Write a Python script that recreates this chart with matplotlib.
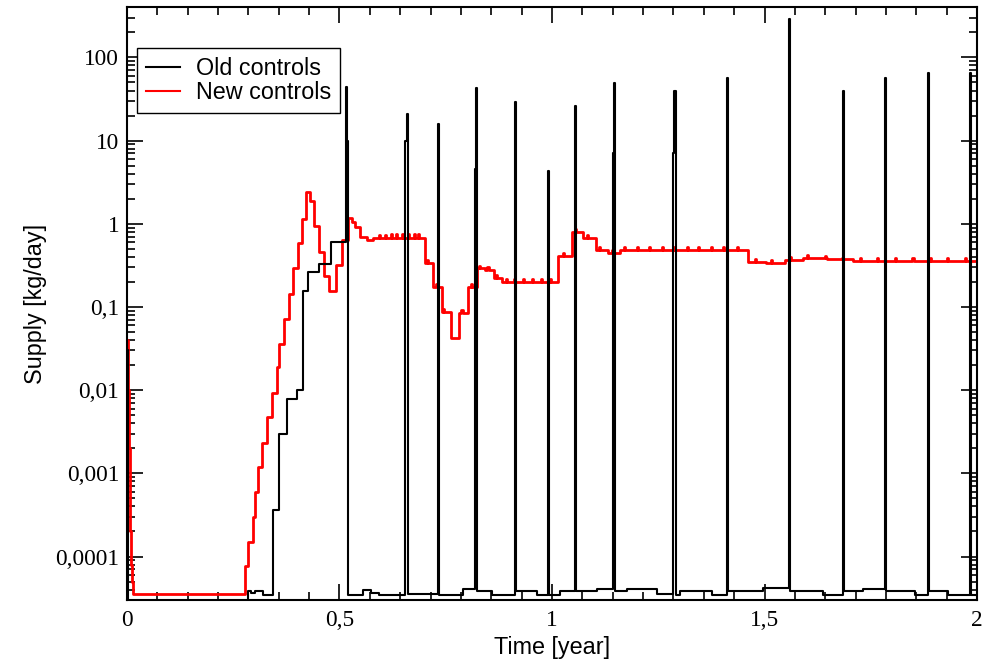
import matplotlib
matplotlib.use('Agg')
import matplotlib.pyplot as plt
import numpy as np
from matplotlib.ticker import FixedLocator, FixedFormatter, LogLocator, NullFormatter, MultipleLocator

# Axis ticks and labels (comma as decimal separator)
x_ticks = [0, 0.5, 1, 1.5, 2]
x_tick_labels = ['0', '0,5', '1', '1,5', '2']
y_ticks = [1e-4, 1e-3, 1e-2, 1e-1, 1, 10, 100]
y_tick_labels = ['0,0001', '0,001', '0,01', '0,1', '1', '10', '100']

series_labels = ['Old controls', 'New controls']

# Old controls: step breakpoints, time [year] and supply [kg/day]
old_t = [0.0, 0.0015, 0.285, 0.292, 0.301, 0.3207, 0.344, 0.358, 0.376, 0.399,
         0.413, 0.4266, 0.4525, 0.479,
         0.5145, 0.5172, 0.52, 0.555, 0.575, 0.594,
         0.655, 0.6577, 0.6604, 0.7325, 0.735, 0.791,
         0.8185, 0.821, 0.8237, 0.859, 0.912, 0.9147, 0.9642,
         0.99, 0.9927, 1.0188, 1.053, 1.0557, 1.105,
         1.1435, 1.146, 1.1487, 1.1757, 1.2463,
         1.2855, 1.288, 1.2907, 1.301, 1.3757,
         1.4125, 1.415, 1.497, 1.5565, 1.559, 1.638,
         1.684, 1.6865, 1.7325, 1.783, 1.7855, 1.854,
         1.8855, 1.888, 1.9325, 1.9835, 1.986, 2.0]
old_v = [0.03, 2e-5, 3.8e-5, 3.6e-5, 3.8e-5, 3.45e-5, 3.6e-4, 0.003, 0.0078, 0.01,
         0.155, 0.26, 0.33, 0.61,
         44, 10, 3.45e-5, 4.0e-5, 3.6e-5, 3.45e-5,
         10, 21, 3.55e-5, 16, 3.45e-5, 4.1e-5,
         4.5, 43, 3.8e-5, 3.45e-5, 29, 3.8e-5, 3.45e-5,
         4.3, 3.45e-5, 3.8e-5, 26, 3.8e-5, 4.1e-5,
         7, 49, 3.8e-5, 4.1e-5, 3.55e-5,
         7, 39, 3.45e-5, 3.8e-5, 3.45e-5,
         56, 3.8e-5, 4.2e-5, 290, 3.8e-5, 3.45e-5,
         40, 3.8e-5, 4.1e-5, 56, 3.8e-5, 3.45e-5,
         65, 3.8e-5, 3.45e-5, 65, 3.45e-5, 3.45e-5]

# New controls: step breakpoints
new_t = [0.0, 0.002, 0.004, 0.006, 0.008, 0.010, 0.012, 0.014,
         0.2776, 0.284, 0.2958, 0.301, 0.3075, 0.318, 0.3287, 0.3405,
         0.352, 0.3584, 0.370, 0.382, 0.391, 0.4016, 0.4125, 0.421,
         0.4306, 0.4407, 0.4518, 0.4635, 0.476, 0.4918, 0.505,
         0.5207, 0.5287, 0.5365, 0.548, 0.564, 0.5795,
         0.701, 0.7207, 0.7405, 0.7616, 0.7819, 0.803, 0.8242,
         0.8424, 0.8642, 0.8816, 1.0148, 1.0464, 1.0736, 1.1035,
         1.1325, 1.16, 1.462, 1.5035, 1.548, 1.591, 1.646, 1.708, 2.0]
new_v = [0.04, 0.01, 0.002, 0.0005, 0.0002, 8e-5, 5e-5, 3.5e-5,
         7.6e-5, 1.5e-4, 3e-4, 6e-4, 1.2e-3, 2.3e-3, 4.7e-3, 9.3e-3,
         0.019, 0.036, 0.071, 0.145, 0.29, 0.58, 1.15, 2.4,
         1.9, 0.93, 0.46, 0.235, 0.154, 0.316, 0.64,
         1.17, 1.05, 0.91, 0.69, 0.63, 0.68,
         0.34, 0.174, 0.087, 0.042, 0.085, 0.174, 0.29,
         0.275, 0.224, 0.2, 0.405, 0.79, 0.68, 0.49,
         0.45, 0.48, 0.35, 0.34, 0.37, 0.385, 0.38, 0.36, 0.355]

# New controls: short one-day blips seen on top of the steps
bump_t = [0.593, 0.606, 0.62, 0.633, 0.646, 0.66, 0.675, 0.6855,
          0.705, 0.728, 0.744, 0.787, 0.809, 0.828, 0.848, 0.869, 0.892,
          0.911, 0.932, 0.953, 0.974, 0.995, 1.025, 1.054, 1.083, 1.111,
          1.14, 1.17, 1.199, 1.228, 1.258, 1.287, 1.317, 1.344, 1.374,
          1.402, 1.436, 1.477, 1.516, 1.56, 1.599, 1.642, 1.683, 1.724,
          1.765, 1.807, 1.848, 1.889, 1.93, 1.972]
bump_v = [0.74, 0.74, 0.75, 0.75, 0.75, 0.75, 0.75, 0.75,
          0.37, 0.19, 0.095, 0.093, 0.19, 0.315, 0.3, 0.244, 0.218,
          0.218, 0.218, 0.218, 0.218, 0.218, 0.44, 0.86, 0.74, 0.53,
          0.49, 0.52, 0.53, 0.53, 0.53, 0.53, 0.53, 0.53, 0.53,
          0.53, 0.53, 0.38, 0.37, 0.4, 0.42, 0.41, 0.39, 0.39,
          0.385, 0.385, 0.385, 0.385, 0.385, 0.385]
bump_width = 0.0027  # one day

# Merge the blips into the step series of the new controls
pts = dict(zip(new_t, new_v))
for tb, vb in zip(bump_t, bump_v):
    base = new_v[np.searchsorted(new_t, tb, side='right') - 1]
    pts[tb] = vb
    pts[tb + bump_width] = base
new_tt = sorted(pts)
new_vv = [pts[t] for t in new_tt]

label_font = 'Liberation Sans'
tick_font = 'Liberation Serif'
font_size = 16.8

fig = plt.figure(figsize=(9.89, 6.6), dpi=100)
ax = fig.add_axes([0.1284, 0.0909, 0.8595, 0.898])

# Draw both series as step lines (old controls on top)
ax.plot(old_t, old_v, drawstyle='steps-post', color='black', linewidth=1.5,
        label=series_labels[0], zorder=3)
ax.plot(new_tt, new_vv, drawstyle='steps-post', color='red', linewidth=2.0,
        label=series_labels[1], zorder=2)

ax.set_yscale('log')
ax.set_xlim(0, 2)
ax.set_ylim(3e-5, 400)

# Ticks: inward on all four sides
ax.xaxis.set_major_locator(FixedLocator(x_ticks))
ax.xaxis.set_major_formatter(FixedFormatter(x_tick_labels))
ax.xaxis.set_minor_locator(MultipleLocator(0.5 / 7))
ax.yaxis.set_major_locator(FixedLocator(y_ticks))
ax.yaxis.set_major_formatter(FixedFormatter(y_tick_labels))
ax.yaxis.set_minor_locator(LogLocator(base=10, subs=range(2, 10), numticks=20))
ax.yaxis.set_minor_formatter(NullFormatter())

ax.tick_params(which='both', direction='in', top=True, right=True, width=1.2)
ax.tick_params(which='major', length=11.5)
ax.tick_params(which='minor', length=5.8)
ax.tick_params(axis='x', which='major', pad=7)
ax.tick_params(axis='y', which='major', pad=5.5)
for lab in ax.get_xticklabels() + ax.get_yticklabels():
    lab.set_fontfamily(tick_font)
    lab.set_fontsize(font_size)

for spine in ax.spines.values():
    spine.set_linewidth(1.5)

ax.set_xlabel('Time [year]', fontfamily=label_font, fontsize=font_size, labelpad=4)
ax.set_ylabel('Supply [kg/day]', fontfamily=label_font, fontsize=font_size, labelpad=6)

leg = ax.legend(loc='upper left', bbox_to_anchor=(0.0118, 0.931), borderaxespad=0,
                prop={'family': label_font, 'size': font_size},
                handlelength=1.45, handletextpad=0.7, borderpad=0.38,
                labelspacing=0.05, fancybox=False, framealpha=1)
leg.get_frame().set_edgecolor('black')
leg.get_frame().set_linewidth(1.0)
for line in leg.get_lines():
    line.set_linewidth(1.5)

fig.savefig('out.png', dpi=100)
